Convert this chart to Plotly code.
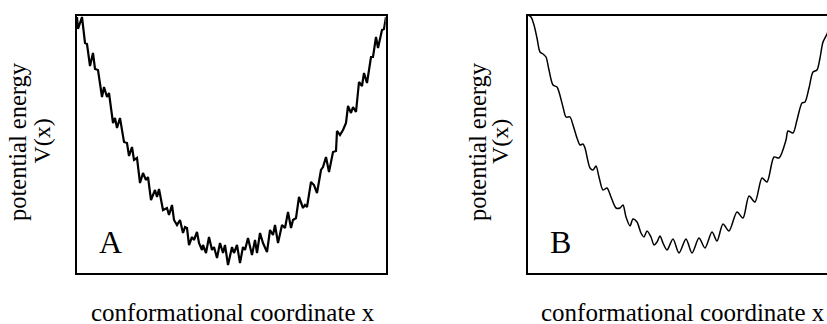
import plotly.graph_objects as go

# Panel A: rugged landscape (conformational coordinate, potential energy)
xa = [0, 1, 5, 8, 10, 13, 16, 18, 21, 25, 27, 30, 32, 36, 38, 40, 43, 47, 50, 52, 55, 57, 60,
      63, 66, 69, 71, 74, 78, 80, 82, 86, 90, 92, 95, 97, 100, 103, 106, 108, 110, 112, 115,
      117, 120, 122, 125, 126, 129, 132, 135, 137, 140, 143, 146, 148, 151, 155, 157, 160,
      163, 166, 168, 171, 175, 178, 180, 183, 186, 190, 193, 196, 198, 201, 205, 208, 211,
      214, 216, 219, 222, 226, 228, 230, 234, 237, 240, 244, 246, 249, 252, 256, 259, 260,
      263, 266, 269, 271, 274, 276, 279, 282, 285, 287, 290, 294, 296, 299, 301, 305, 307, 309]
va = [256, 244, 256, 230, 229, 207, 220, 204, 203, 176, 186, 176, 180, 150, 155, 145, 155, 131,
      130, 117, 126, 113, 115, 90, 100, 93, 96, 73, 83, 76, 84, 63, 65, 58, 68, 53, 48, 53, 40,
      46, 45, 28, 36, 33, 41, 30, 23, 28, 20, 36, 23, 26, 15, 30, 20, 28, 8, 26, 20, 28, 10,
      26, 23, 35, 18, 33, 20, 40, 30, 21, 43, 38, 48, 30, 48, 45, 61, 45, 53, 55, 76, 65, 68,
      66, 91, 88, 80, 103, 106, 116, 101, 121, 122, 142, 138, 143, 150, 167, 160, 166, 161,
      191, 187, 200, 190, 216, 216, 236, 225, 243, 244, 256]

# Panel B: smoother landscape with regular ripples
xb = [0, 3, 6, 9, 12, 15, 18, 21, 25, 29, 31, 35, 38, 42, 45, 49, 52, 55, 57, 62, 65, 68, 71,
      75, 79, 83, 88, 92, 95, 98, 102, 105, 109, 113, 116, 119, 123, 126, 129, 132, 135, 139,
      145, 151, 158, 164, 171, 177, 184, 189, 195, 201, 209, 215, 221, 227, 234, 239, 246,
      251, 258, 260, 265, 269, 274, 277, 281, 285, 289, 292, 295, 299, 303, 306]
vb = [258, 256, 248, 235, 221, 219, 216, 203, 188, 186, 181, 166, 156, 156, 148, 135, 128, 129,
      125, 105, 103, 107, 96, 83, 85, 76, 65, 65, 68, 56, 47, 54, 51, 40, 36, 42, 36, 28, 31,
      37, 30, 23, 34, 20, 34, 20, 35, 25, 41, 32, 49, 42, 61, 55, 77, 71, 95, 91, 116, 115,
      133, 142, 140, 153, 170, 171, 185, 201, 203, 215, 231, 239, 249, 256]

panel_labels = ["A", "B"]
ylabel_1 = "potential energy"
ylabel_2 = "V(x)"
xlabel = "conformational coordinate x"

W, H = 827, 324
FONT = "Liberation Serif, Times New Roman, serif"

fig = go.Figure()
fig.add_trace(go.Scatter(x=xa, y=va, mode="lines", line=dict(color="black", width=2.2),
                         xaxis="x", yaxis="y", showlegend=False))
fig.add_trace(go.Scatter(x=xb, y=vb, mode="lines", line=dict(color="black", width=1.5, shape="spline", smoothing=0.8),
                         xaxis="x2", yaxis="y2", showlegend=False))

ax_common = dict(showline=True, linecolor="black", linewidth=2, showgrid=False,
                 zeroline=False, showticklabels=False, ticks="", fixedrange=True)

fig.update_layout(
    width=W, height=H,
    margin=dict(l=0, r=0, t=0, b=0),
    paper_bgcolor="white", plot_bgcolor="white",
    xaxis=dict(domain=[76.7 / W, 385.7 / W], range=[-0.3, 308.7], mirror=True, **ax_common),
    yaxis=dict(domain=[1 - 273.3 / H, 1 - 15.7 / H], range=[-0.3, 257.3], mirror=True, **ax_common),
    xaxis2=dict(domain=[527.7 / W, 1.0], range=[-0.3, 299], mirror=True, anchor="y2", **ax_common),
    yaxis2=dict(domain=[1 - 273.3 / H, 1 - 16 / H], range=[-0.3, 257], mirror=False, anchor="x2", **ax_common),
)

ann = []
for cx_pe, cx_v, cx_lab, cx_xl, lab in [(18, 41, 110, 233, panel_labels[0]),
                                         (478, 499.5, 560, 683, panel_labels[1])]:
    ann.append(dict(text=ylabel_1, x=cx_pe / W, y=1 - 142 / H, textangle=-90,
                    font=dict(size=24.5, family=FONT, color="black")))
    ann.append(dict(text=ylabel_2, x=cx_v / W, y=1 - 141.5 / H, textangle=-90,
                    font=dict(size=24, family=FONT, color="black")))
    ann.append(dict(text=xlabel, x=cx_xl / W, y=1 - 312 / H))
    ann.append(dict(text=lab, x=cx_lab / W, y=1 - 242 / H, font=dict(size=32, family=FONT, color="black")))

for a in ann:
    a.setdefault("font", dict(size=25, family=FONT, color="black"))
    a.update(xref="paper", yref="paper", showarrow=False, xanchor="center", yanchor="middle")
fig.update_layout(annotations=ann)

fig.write_html("out.html")
